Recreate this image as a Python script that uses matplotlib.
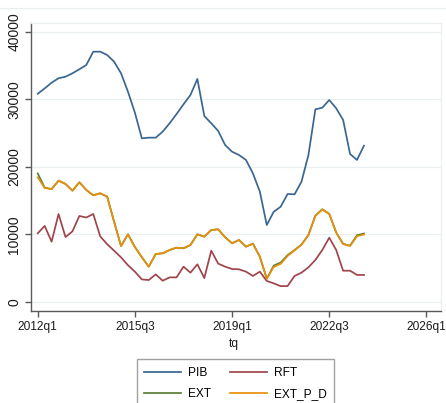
import matplotlib
matplotlib.use("Agg")
import matplotlib.pyplot as plt
from matplotlib import font_manager
from matplotlib.lines import Line2D

# Quarterly series, 2012q1 .. 2023q4
start_year = 2012
pib = [30800, 31600, 32450, 33100, 33330, 33840, 34430, 35070, 37040, 37040,
       36550, 35560, 33840, 31110, 28000, 24200, 24300, 24300, 25190, 26430,
       27800, 29240, 30620, 33000, 27510, 26430, 25290, 23210, 22220, 21730,
       21000, 19020, 16300, 11360, 13330, 14070, 15960, 15900, 17780, 21730,
       28500, 28740, 29880, 28650, 26920, 21880, 21000, 23110]
rft = [10130, 11230, 8890, 12990, 9580, 10420, 12700, 12470, 12990, 9680,
       8520, 7560, 6570, 5400, 4450, 3300, 3210, 4050, 3110, 3600,
       3600, 5190, 4300, 5540, 3500, 7560, 5640, 5190, 4840, 4800,
       4450, 3810, 4450, 3070, 2720, 2300, 2320, 3810, 4300, 5090,
       6180, 7660, 9480, 7660, 4590, 4590, 3960, 3960]
ext_p_d = [18430, 16850, 16680, 17930, 17440, 16440, 17690, 16550, 15760, 16060,
           15560, 11850, 8250, 9980, 8100, 6580, 5190, 7070, 7170, 7660,
           8000, 7910, 8400, 9980, 9630, 10620, 10720, 9540, 8650, 9140,
           8150, 8600, 6670, 3400, 5150, 5600, 6770, 7600, 8450, 9880,
           12700, 13650, 13000, 10250, 8550, 8250, 9700, 9950]
ext = [19000, 16900, 16680, 17930, 17440, 16440, 17690, 16550, 15760, 16060,
       15560, 11850, 8250, 9980, 8100, 6580, 5190, 7070, 7170, 7660,
       8000, 7910, 8400, 9980, 9630, 10620, 10720, 9540, 8650, 9140,
       8150, 8600, 6670, 3400, 5350, 5800, 6900, 7650, 8450, 9880,
       12750, 13700, 13000, 10250, 8550, 8300, 9850, 10100]

x_tick_labels = ["2012q1", "2015q3", "2019q1", "2022q3", "2026q1"]
y_ticks = [0, 10000, 20000, 30000, 40000]

names = {f.name for f in font_manager.fontManager.ttflist}
narrow = "Liberation Sans Narrow" if "Liberation Sans Narrow" in names else "Liberation Sans"
regular = "Liberation Sans"
fs = 10 if narrow != regular else 8.6

W, H = 446, 403
fig = plt.figure(figsize=(W / 100, H / 100), dpi=100)
fig.patch.set_facecolor("white")

L, R, T, B = 31, 441, 22.7, 311
ax = fig.add_axes([L / W, 1 - B / H, (R - L) / W, (B - T) / H])

q = list(range(len(pib)))
colors = {"PIB": "#3a6692", "RFT": "#a0444c", "EXT": "#5a7d35", "EXT_P_D": "#e8900a"}
lw = 1.25
ax.plot(q, pib, color=colors["PIB"], lw=lw, zorder=3)
ax.plot(q, rft, color=colors["RFT"], lw=lw, zorder=3)
ax.plot(q, ext, color=colors["EXT"], lw=lw, zorder=3)
ax.plot(q, ext_p_d, color=colors["EXT_P_D"], lw=lw, zorder=4)

x_ticks = [(int(s[:4]) - start_year) * 4 + int(s[-1]) - 1 for s in x_tick_labels]
ax.set_xlim(-0.97, 58.1)
ax.set_ylim(-1380, 41333)
ax.set_xticks(x_ticks)
ax.set_xticklabels(x_tick_labels, fontfamily=narrow, fontsize=fs)
ax.set_yticks(y_ticks)
ax.set_yticklabels([str(v) for v in y_ticks], fontfamily=regular, fontsize=10,
                   rotation=90, va="center")

grid_c = "#eaf0f2"
ax.grid(axis="y", color=grid_c, lw=0.9, zorder=0)
ax.set_axisbelow(True)
axis_c = "#5a5a5a"
for s in ["left", "bottom"]:
    ax.spines[s].set_color(axis_c)
    ax.spines[s].set_linewidth(1.0)
for s in ["top", "right"]:
    ax.spines[s].set_color(grid_c)
    ax.spines[s].set_linewidth(0.9)
ax.tick_params(axis="both", color=axis_c, length=4, width=1.0, labelcolor="#1a1a1a")
ax.tick_params(axis="x", pad=3)
ax.tick_params(axis="y", pad=3)

fig.text(234 / W, 1 - 344 / H, "tq", ha="center", va="center",
         fontfamily=narrow, fontsize=fs, color="#1a1a1a")

# faint outer graph-region edge
fig.add_artist(Line2D([0, 1], [1 - 7.5 / H, 1 - 7.5 / H], transform=fig.transFigure,
                      color=grid_c, lw=0.9))

handles = [Line2D([], [], color=colors[k], lw=lw) for k in ["PIB", "EXT", "RFT", "EXT_P_D"]]
labels = ["PIB", "EXT", "RFT", "EXT_P_D"]
leg = fig.legend(handles, labels, ncol=2, loc="upper center",
                 bbox_to_anchor=(235.5 / W, 1 - 359.3 / H),
                 prop={"family": narrow, "size": fs},
                 frameon=True, fancybox=False, edgecolor="#8a8a8a",
                 handlelength=3.1, handletextpad=0.55, columnspacing=1.6,
                 labelspacing=0.8, borderpad=0.62, borderaxespad=0)
leg.get_frame().set_linewidth(1.0)

fig.savefig("out.png", dpi=100, facecolor="white")
